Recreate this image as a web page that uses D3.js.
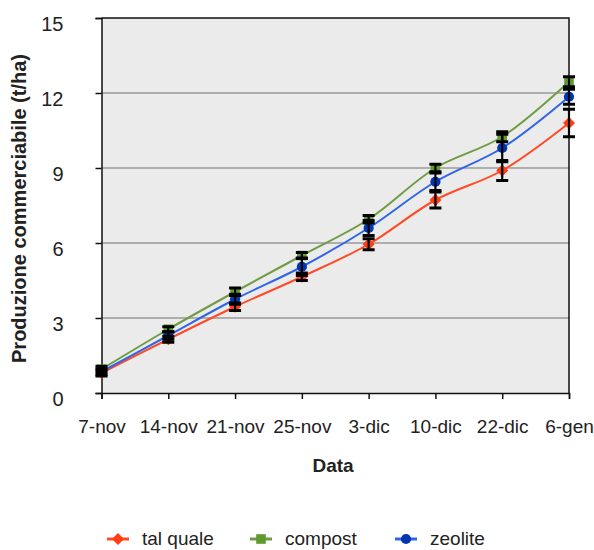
<!DOCTYPE html>
<html>
<head>
<meta charset="utf-8">
<script src="https://cdn.jsdelivr.net/npm/d3@7/dist/d3.min.js"></script>
<style>
  body { margin: 0; background: #fff; }
  svg text { font-family: "Liberation Sans", Arial, sans-serif; fill: #222; }
</style>
</head>
<body>
<div id="chart"></div>
<script>
// data
const dates = ['7-nov', '14-nov', '21-nov', '25-nov', '3-dic', '10-dic', '22-dic', '6-gen'];
const talQuale = [0.8, 2.15, 3.45, 4.65, 5.95, 7.72, 8.9, 10.8];
const compost = [0.95, 2.55, 4.05, 5.5, 6.95, 9.0, 10.25, 12.45];
const zeolite = [0.85, 2.3, 3.75, 5.05, 6.6, 8.45, 9.8, 11.85];
const errTalQuale = [0.12, 0.12, 0.15, 0.15, 0.22, 0.32, 0.4, 0.55];
const errCompost = [0.12, 0.1, 0.15, 0.12, 0.15, 0.15, 0.2, 0.2];
const errZeolite = [0.12, 0.15, 0.2, 0.35, 0.3, 0.35, 0.55, 0.3];
const yTicks = [0, 3, 6, 9, 12, 15];

const series = [
  { name: 'tal quale', values: talQuale, err: errTalQuale, line: '#ff4a26', marker: '#ff3c14', shape: 'diamond' },
  { name: 'compost', values: compost, err: errCompost, line: '#6f9c42', marker: '#5f9a2e', shape: 'square' },
  { name: 'zeolite', values: zeolite, err: errZeolite, line: '#2f66e8', marker: '#0036b0', shape: 'circle' }
];

const width = 594, height = 550;
const margin = { left: 101.5, right: 25, top: 18, bottom: 157 };

const svg = d3.select('#chart').append('svg')
  .attr('width', width)
  .attr('height', height);

const x = d3.scalePoint()
  .domain(dates)
  .range([margin.left, width - margin.right]);

const y = d3.scaleLinear()
  .domain([0, 15])
  .range([height - margin.bottom, margin.top]);

// plot background
svg.append('rect')
  .attr('x', margin.left)
  .attr('y', margin.top)
  .attr('width', x.range()[1] - margin.left)
  .attr('height', y(0) - y(15))
  .attr('fill', '#ebebeb');

// gridlines
svg.append('g')
  .selectAll('line')
  .data(yTicks.filter(d => d > 0 && d < 15))
  .enter()
  .append('line')
  .attr('x1', margin.left)
  .attr('x2', x.range()[1])
  .attr('y1', d => y(d))
  .attr('y2', d => y(d))
  .attr('stroke', '#9a9a9a')
  .attr('stroke-width', 1.5);

// top and right border
svg.append('path')
  .attr('d', `M${margin.left},${y(15)}H${x.range()[1]}V${y(0)}`)
  .attr('fill', 'none')
  .attr('stroke', '#111')
  .attr('stroke-width', 1.5);

// axes
const yAxis = svg.append('g')
  .attr('transform', `translate(${margin.left},0)`)
  .call(d3.axisLeft(y).tickValues(yTicks).tickSize(6).tickPadding(32));
yAxis.select('.domain').attr('stroke', '#111').attr('stroke-width', 1.5);
yAxis.selectAll('.tick line').attr('stroke', '#111').attr('stroke-width', 1.5);
yAxis.selectAll('.tick text')
  .attr('font-size', 20)
  .attr('dy', '0.6em')
  .style('font-family', '"Liberation Sans", Arial, sans-serif')
  .attr('fill', '#222');

const xAxis = svg.append('g')
  .attr('transform', `translate(0,${y(0)})`)
  .call(d3.axisBottom(x).tickSize(6).tickPadding(21));
xAxis.select('.domain').attr('stroke', '#111').attr('stroke-width', 1.5);
xAxis.selectAll('.tick line').attr('stroke', '#111').attr('stroke-width', 1.5);
xAxis.selectAll('.tick text')
  .attr('font-size', 19)
  .style('font-family', '"Liberation Sans", Arial, sans-serif')
  .attr('fill', '#222');

// axis titles
svg.append('text')
  .attr('transform', `translate(26,${(y(0) + y(15)) / 2 + 3}) rotate(-90)`)
  .attr('text-anchor', 'middle')
  .attr('font-size', 20)
  .attr('font-weight', 'bold')
  .text('Produzione commerciabile (t/ha)');

svg.append('text')
  .attr('x', 333)
  .attr('y', 472)
  .attr('text-anchor', 'middle')
  .attr('font-size', 19)
  .attr('font-weight', 'bold')
  .text('Data');

// lines
const line = d3.line()
  .x((d, i) => x(dates[i]))
  .y(d => y(d))
  .curve(d3.curveCatmullRom.alpha(0.5));

function drawMarker(g, shape, color, cx, cy, s) {
  if (shape === 'diamond') {
    g.append('path')
      .attr('d', `M${cx},${cy - s}L${cx + s},${cy}L${cx},${cy + s}L${cx - s},${cy}Z`)
      .attr('fill', color);
  } else if (shape === 'square') {
    g.append('rect')
      .attr('x', cx - s * 0.8).attr('y', cy - s * 0.8)
      .attr('width', s * 1.6).attr('height', s * 1.6)
      .attr('fill', color);
  } else {
    g.append('circle')
      .attr('cx', cx).attr('cy', cy).attr('r', s * 0.85)
      .attr('fill', color);
  }
}

series.forEach(s => {
  svg.append('path')
    .datum(s.values)
    .attr('d', line)
    .attr('fill', 'none')
    .attr('stroke', s.line)
    .attr('stroke-width', 2);
});

series.forEach(s => {
  const g = svg.append('g');
  s.values.forEach((v, i) => drawMarker(g, s.shape, s.marker, x(dates[i]), y(v), 6));
});

// error bars
series.forEach(s => {
  const g = svg.append('g').attr('stroke', '#000').attr('stroke-width', 2.2);
  s.values.forEach((v, i) => {
    const cx = x(dates[i]);
    const lo = y(v - s.err[i]), hi = y(v + s.err[i]);
    g.append('line').attr('x1', cx).attr('x2', cx).attr('y1', lo).attr('y2', hi);
    g.append('line').attr('x1', cx - 6).attr('x2', cx + 6).attr('y1', lo).attr('y2', lo).attr('stroke-width', 3);
    g.append('line').attr('x1', cx - 6).attr('x2', cx + 6).attr('y1', hi).attr('y2', hi).attr('stroke-width', 3);
  });
});

// legend
const legendX = [118, 261, 406];
const legend = svg.append('g');
series.forEach((s, i) => {
  const lx = legendX[i], ly = 539;
  legend.append('line')
    .attr('x1', lx - 11).attr('x2', lx + 11)
    .attr('y1', ly).attr('y2', ly)
    .attr('stroke', s.line).attr('stroke-width', 3);
  drawMarker(legend, s.shape, s.marker, lx, ly, 6);
  legend.append('text')
    .attr('x', lx + 24)
    .attr('y', ly + 6)
    .attr('font-size', 19)
    .text(s.name);
});
</script>
</body>
</html>
